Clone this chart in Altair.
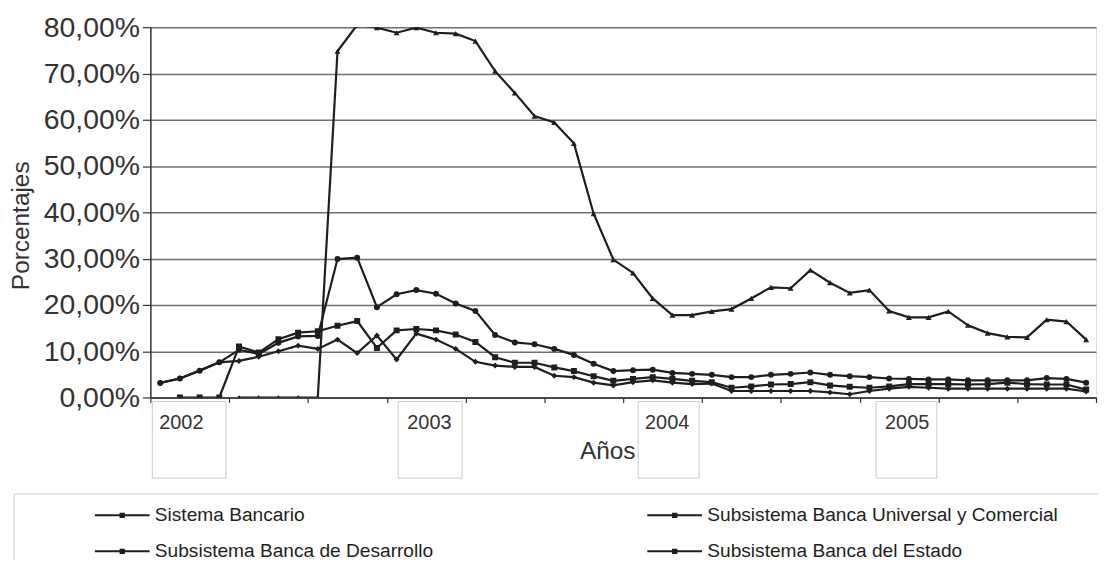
import altair as alt
import pandas as pd

# ---- data (percent values) ----
months = list(range(48))  # Jan 2002 .. Dec 2005

series_names = [
    "Sistema Bancario",
    "Subsistema Banca Universal y Comercial",
    "Subsistema Banca de Desarrollo",
    "Subsistema Banca del Estado",
]
series_shapes = ["circle", "square", "diamond", "triangle-up"]
# legend fills column by column: col 1 = Sistema, Desarrollo; col 2 = Universal, Estado
legend_order = [series_names[0], series_names[2], series_names[1], series_names[3]]

sistema = [3.15, 4.1, 5.8, 7.6, 10.3, 9.4, 11.8, 13.2, 13.3,
           29.9, 30.2, 19.5, 22.3, 23.2, 22.4, 20.3, 18.7, 13.5, 11.9,
           11.5, 10.5, 9.2, 7.3, 5.7, 5.9, 6.0, 5.3, 5.1,
           4.9, 4.4, 4.4, 4.9, 5.1, 5.4, 4.9, 4.6, 4.4, 4.1,
           4.0, 3.9, 3.9, 3.7, 3.7, 3.7, 3.7, 4.2, 4.0, 3.2]
universal = [None, 0, 0, 0, 11.0, 9.7, 12.6, 14.0, 14.3,
             15.5, 16.5, 10.7, 14.5, 14.8, 14.5, 13.6, 12.0, 8.7, 7.5,
             7.5, 6.5, 5.7, 4.6, 3.6, 4.0, 4.4, 4.0, 3.6,
             3.3, 2.1, 2.4, 2.8, 2.9, 3.3, 2.6, 2.3, 2.1, 2.4,
             2.9, 2.9, 2.9, 2.8, 2.9, 3.2, 2.9, 2.8, 2.8, 1.7]
desarrollo = [3.15, 4.1, 5.8, 7.6, 7.9, 8.8, 10.0, 11.2, 10.5,
              12.5, 9.6, 13.4, 8.2, 13.8, 12.5, 10.5, 7.7, 6.9, 6.6,
              6.6, 4.7, 4.4, 3.2, 2.6, 3.3, 3.7, 3.2, 2.9,
              3.0, 1.4, 1.4, 1.4, 1.4, 1.4, 1.1, 0.7, 1.4, 1.9,
              2.3, 2.1, 1.9, 1.9, 1.9, 1.9, 1.9, 1.9, 1.9, 1.3]
estado = [None, None, None, None, 0, 0, 0, 0, 0,
          74.8, 80.5, 79.9, 78.8, 79.9, 78.8, 78.6, 77.0, 70.5, 65.8,
          60.8, 59.4, 54.9, 39.7, 29.8, 26.9, 21.4, 17.8, 17.8,
          18.6, 19.1, 21.4, 23.8, 23.6, 27.5, 24.8, 22.6, 23.2, 18.7,
          17.3, 17.3, 18.6, 15.6, 13.9, 13.1, 13.0, 16.8, 16.4, 12.5]

y_ticks = [0, 0.1, 0.2, 0.3, 0.4, 0.5, 0.6, 0.7, 0.8]
year_labels = ["2002", "2003", "2004", "2005"]
year_label_pos = [-0.05, 12.54, 24.61, 36.79]     # month index where label starts
year_box_left = [-0.40, 12.08, 24.26, 36.34]
year_box_right = [3.34, 15.32, 27.35, 39.42]

rows = []
for name, vals in zip(series_names, [sistema, universal, desarrollo, estado]):
    for m, v in zip(months, vals):
        if v is not None:
            rows.append({"mes": m, "serie": name, "forma": name, "valor": v / 100.0})
df = pd.DataFrame(rows)

years_df = pd.DataFrame({"year": year_labels, "pos": year_label_pos,
                         "left": year_box_left, "right": year_box_right})

FONT = "Liberation Sans"
INK = "#1e1e1e"

x_enc = alt.X(
    "mes:Q",
    scale=alt.Scale(domain=[-0.5, 47.5], nice=False, zero=False),
    axis=alt.Axis(
        values=[i - 0.5 for i in range(49)], labels=False, grid=False,
        tickSize=5, tickColor="#333", tickWidth=1.2,
        domainColor="#333", domainWidth=1.5,
        title="Años", titleX=459, titleY=54, titleFont=FONT,
        titleFontSize=24.5, titleFontWeight="normal", titleColor="#333",
        titleBaseline="middle", titleAlign="center",
    ),
)
y_enc = alt.Y(
    "valor:Q",
    scale=alt.Scale(domain=[0, 0.8], nice=False),
    axis=alt.Axis(
        values=y_ticks,
        labelExpr="replace(format(datum.value, '.2%'), '.', ',')",
        labelFont=FONT, labelFontSize=28.5, labelColor="#333", labelPadding=3,
        tickSize=8, tickColor="#333", tickWidth=1.2,
        gridColor="#707070", gridWidth=1.5,
        domainColor="#333", domainWidth=1.5,
        title="Porcentajes", titleX=-129, titleY=199, titleAngle=-90,
        titleAlign="center", titleBaseline="middle", titleFont=FONT,
        titleFontSize=24.5, titleFontWeight="normal", titleColor="#333",
    ),
)

legend = alt.Legend(
    title=None, orient="none", legendX=-43.25, legendY=475,
    columns=2, columnPadding=210, rowPadding=10.5, padding=0,
    symbolType="M-2,0H2M-0.12,-0.12H0.12V0.12H-0.12Z",
    symbolSize=756, symbolStrokeWidth=2, symbolFillColor=INK,
    labelFont=FONT, labelFontSize=19.2, labelColor=INK,
    labelOffset=17.75, labelLimit=800,
)

lines = alt.Chart(df).mark_line(strokeWidth=2.2, clip=True).encode(
    x=x_enc, y=y_enc,
    color=alt.Color("serie:N", scale=alt.Scale(domain=legend_order, range=[INK] * 4),
                    legend=legend),
)
points = alt.Chart(df).mark_point(filled=True, size=36, opacity=1, clip=True, color=INK).encode(
    x="mes:Q", y="valor:Q",
    shape=alt.Shape("forma:N", scale=alt.Scale(domain=series_names, range=series_shapes),
                    legend=None),
)

year_boxes = alt.Chart(years_df).mark_rect(fill="white", fillOpacity=0, stroke="#cccccc",
                                           strokeWidth=1).encode(
    x="left:Q", x2="right:Q", y=alt.value(376), y2=alt.value(453),
)
year_text = alt.Chart(years_df).mark_text(
    align="left", baseline="middle", font=FONT, fontSize=20, color="#333"
).encode(x="pos:Q", y=alt.value(398), text="year:N")

legend_box = alt.Chart(pd.DataFrame({"k": [0]})).mark_rect(
    fill="white", fillOpacity=0, stroke="#cccccc", strokeWidth=1
).encode(x=alt.value(-137), x2=alt.value(960), y=alt.value(469), y2=alt.value(580))

chart = alt.layer(legend_box, year_boxes, year_text, lines, points).properties(
    width=950, height=372,
    autosize=alt.AutoSizeParams(type="none"),
    padding={"left": 143, "top": 18, "right": 2, "bottom": 162},
).configure_view(stroke=None).configure(background="white")

chart.save("out.html", embed_options={"renderer": "svg", "actions": False})
